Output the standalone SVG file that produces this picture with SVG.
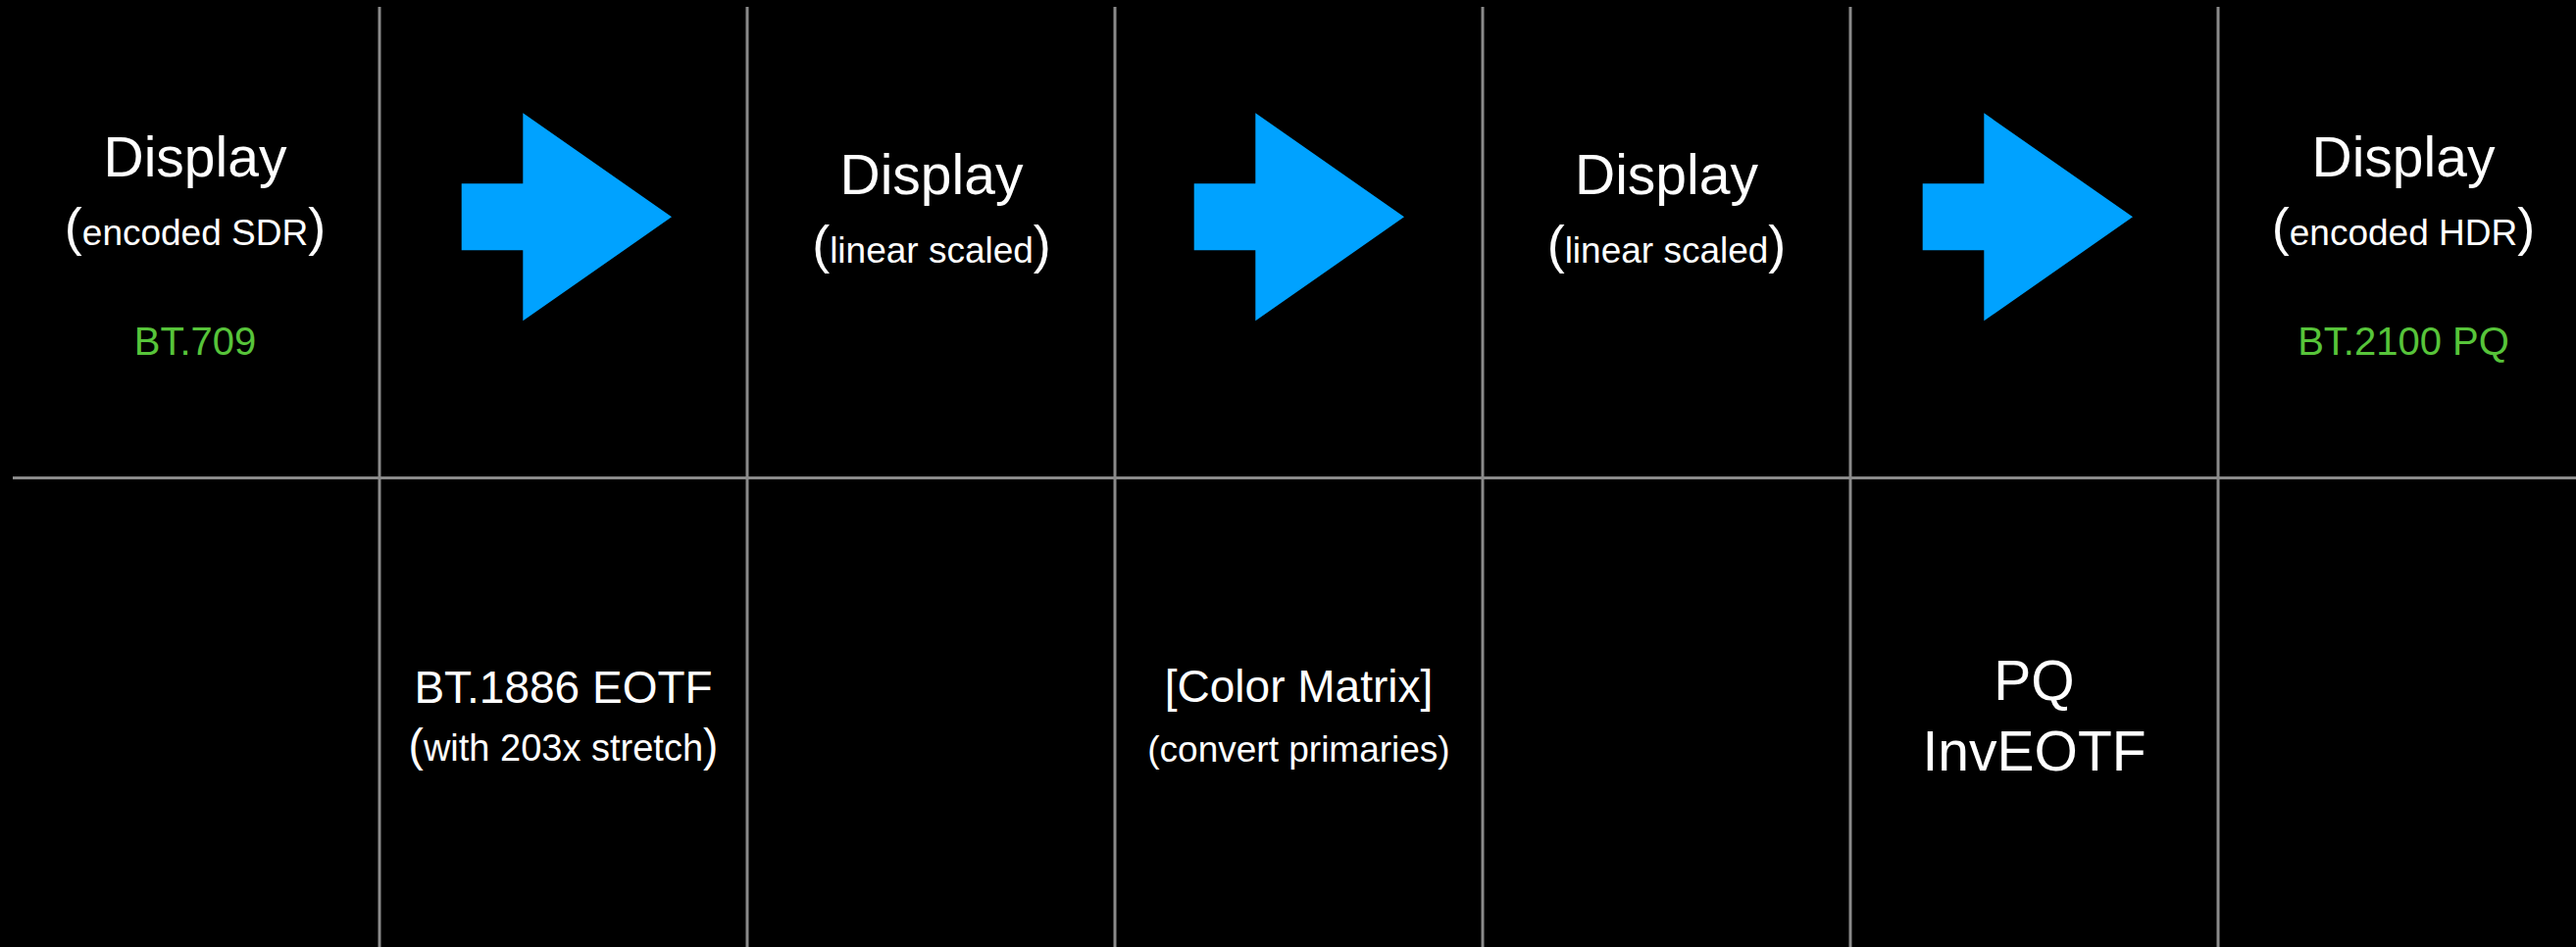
<svg xmlns="http://www.w3.org/2000/svg" width="2627" height="966" viewBox="0 0 2627 966">
<style>
text{font-family:"Liberation Sans",Arial,Helvetica,sans-serif;fill:#fff;text-anchor:middle}
.big{font-size:57px}
.mid{font-size:46px}
.small{font-size:37px}
.paren{font-size:54px}
.green{fill:#57C43A;font-size:40px}
.grid line{stroke:#8a8a8a;stroke-width:3}
.arrow{fill:#00A2FF}
</style>
<defs>
<polygon id="arr" class="arrow" points="470.7,187.3 533.3,187.3 533.3,115.3 685,221.3 533.3,327.3 533.3,255.3 470.7,255.3"/>
</defs>
<rect width="2627" height="966" fill="#000"/>
<g id="grid" class="grid">
<line x1="387" y1="7" x2="387" y2="966"/>
<line x1="762" y1="7" x2="762" y2="966"/>
<line x1="1137" y1="7" x2="1137" y2="966"/>
<line x1="1512" y1="7" x2="1512" y2="966"/>
<line x1="1887" y1="7" x2="1887" y2="966"/>
<line x1="2262" y1="7" x2="2262" y2="966"/>
<line x1="13" y1="487.5" x2="2627" y2="487.5"/>
</g>
<g id="connectors">
<use href="#arr"/>
<use href="#arr" x="747"/>
<use href="#arr" x="1490"/>
</g>
<g id="node-sdr">
<text class="big" x="199" y="180">Display</text>
<text x="199" y="250"><tspan class="paren">(</tspan><tspan class="small">encoded SDR</tspan><tspan class="paren">)</tspan></text>
<text class="green" x="199" y="361.7">BT.709</text>
</g>
<g id="node-eotf">
<text class="mid" x="574.5" y="716.7">BT.1886 EOTF</text>
<text x="574.5" y="776"><tspan style="font-size:46px">(</tspan><tspan style="font-size:38px">with 203x stretch</tspan><tspan style="font-size:46px">)</tspan></text>
</g>
<g id="node-linear1">
<text class="big" x="950" y="198">Display</text>
<text x="950" y="268"><tspan class="paren">(</tspan><tspan class="small">linear scaled</tspan><tspan class="paren">)</tspan></text>
</g>
<g id="node-matrix">
<text class="mid" x="1324.5" y="715.7">[Color Matrix]</text>
<text class="small" x="1324.5" y="776.7">(convert primaries)</text>
</g>
<g id="node-linear2">
<text class="big" x="1699.5" y="198">Display</text>
<text x="1699.5" y="268"><tspan class="paren">(</tspan><tspan class="small">linear scaled</tspan><tspan class="paren">)</tspan></text>
</g>
<g id="node-pq">
<text class="big" x="2074.5" y="714">PQ</text>
<text class="big" x="2074.5" y="786">InvEOTF</text>
</g>
<g id="node-hdr">
<text class="big" x="2451" y="180">Display</text>
<text x="2451" y="250"><tspan class="paren">(</tspan><tspan class="small">encoded HDR</tspan><tspan class="paren">)</tspan></text>
<text class="green" x="2451" y="361.7">BT.2100 PQ</text>
</g>
</svg>
